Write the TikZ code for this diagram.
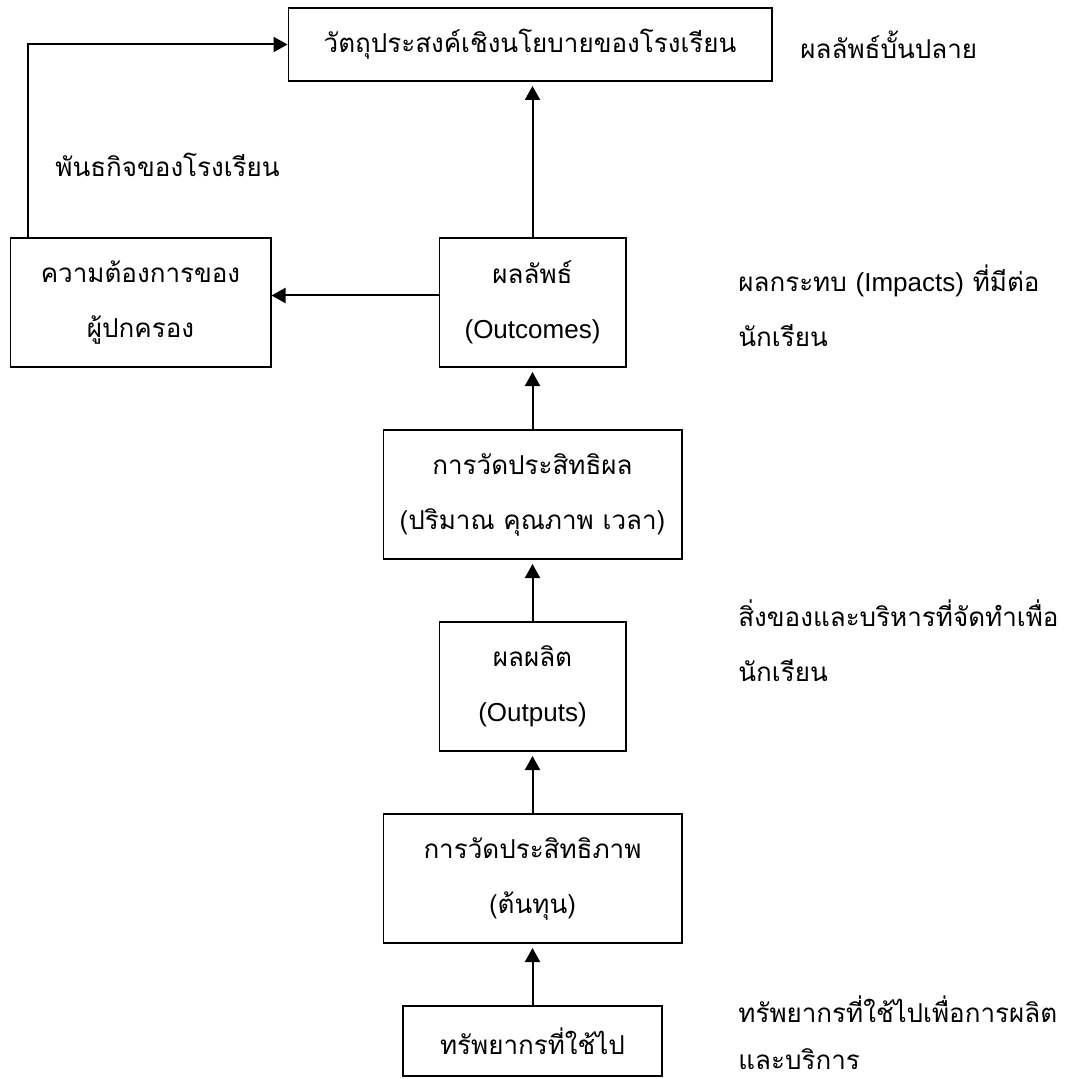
\documentclass[tikz,border=0pt]{standalone}
\usepackage{fontspec}
\setmainfont[Script=Thai]{Loma}
\newfontfamily\latinfont{Liberation Sans}
\usetikzlibrary{
  arrows.meta,
  positioning
}
\definecolor{boxcolor}{RGB}{0, 0, 0}
\definecolor{arrowcolor}{RGB}{0, 0, 0}
\definecolor{labelcolor}{RGB}{0, 0, 0}
\newcommand{\en}[1]{{\latinfont\fontsize{13}{27.5}\selectfont #1}}
\tikzset{
blocktext/.style={
  align=center,
  font=\fontsize{13}{27.5}\selectfont,
  text=labelcolor
},
block/.style={
  draw=boxcolor,
  line width=0.9pt,
  minimum height=64.6pt,
  inner sep=2pt,
  blocktext
},
wideblock/.style={
  block,
  minimum width=149.1pt
},
narrowblock/.style={
  block,
  minimum width=93.1pt
},
notelabel/.style={
  anchor=west,
  inner sep=0pt,
  blocktext,
  align=left
},
arrow/.style={
  -{Triangle[length=7pt,width=7.5pt]},
  line width=1pt,
  draw=arrowcolor,
  shorten >=2pt
}
}
\begin{document}
\begin{tikzpicture}[x=0.5pt, y=-0.5pt, node distance=30.5pt]
  \useasboundingbox (0,0) rectangle (1068,1079);

  % Main column, bottom up
  \node[block, minimum width=129.6pt, minimum height=35.1pt] (resources) at (532.5,1041) {ทรัพยากรที่ใช้ไป};
  \node[wideblock, above=of resources] (efficiency) {การวัดประสิทธิภาพ\\(ต้นทุน)};
  \node[narrowblock, above=of efficiency] (outputs) {ผลผลิต\\\en{(Outputs)}};
  \node[wideblock, above=of outputs] (effect) {การวัดประสิทธิผล\\(ปริมาณ คุณภาพ เวลา)};
  \node[narrowblock, above=of effect] (outcomes) {ผลลัพธ์\\\en{(Outcomes)}};
  \node[block, minimum width=241.6pt, minimum height=36.6pt, above=77.5pt of outcomes, xshift=-1.25pt] (goal) {วัตถุประสงค์เชิงนโยบายของโรงเรียน};
  \node[block, minimum width=130.1pt, left=83.5pt of outcomes] (parents) {ความต้องการของ\\ผู้ปกครอง};

  % Arrows
  \draw[arrow] (resources) -- (efficiency);
  \draw[arrow] (efficiency) -- (outputs);
  \draw[arrow] (outputs) -- (effect);
  \draw[arrow] (effect) -- (outcomes);
  \draw[arrow] (outcomes) -- (outcomes |- goal.south);
  \draw[arrow, shorten >=0pt] ([yshift=3.5pt]outcomes.west) -- ([yshift=3.5pt]parents.east);
  \coordinate (missionstart) at ([xshift=9pt]parents.north west);
  \draw[arrow, shorten >=0pt] (missionstart) |- (goal.west);

  % Notes on the right
  \node[notelabel] (finalnote) at (800,45) {ผลลัพธ์บั้นปลาย};
  \node[notelabel] (impactnote) at (738,305.5) {ผลกระทบ \en{(Impacts)} ที่มีต่อ\\นักเรียน};
  \node[notelabel] (outputnote) at (738,641) {สิ่งของและบริหารที่จัดทำเพื่อ\\นักเรียน};
  \node[notelabel, font=\fontsize{13}{23.5}\selectfont] (resourcenote) at (738,1033) {ทรัพยากรที่ใช้ไปเพื่อการผลิต\\และบริการ};
  \node[notelabel] (missionnote) at (55,165) {พันธกิจของโรงเรียน};
\end{tikzpicture}
\end{document}
